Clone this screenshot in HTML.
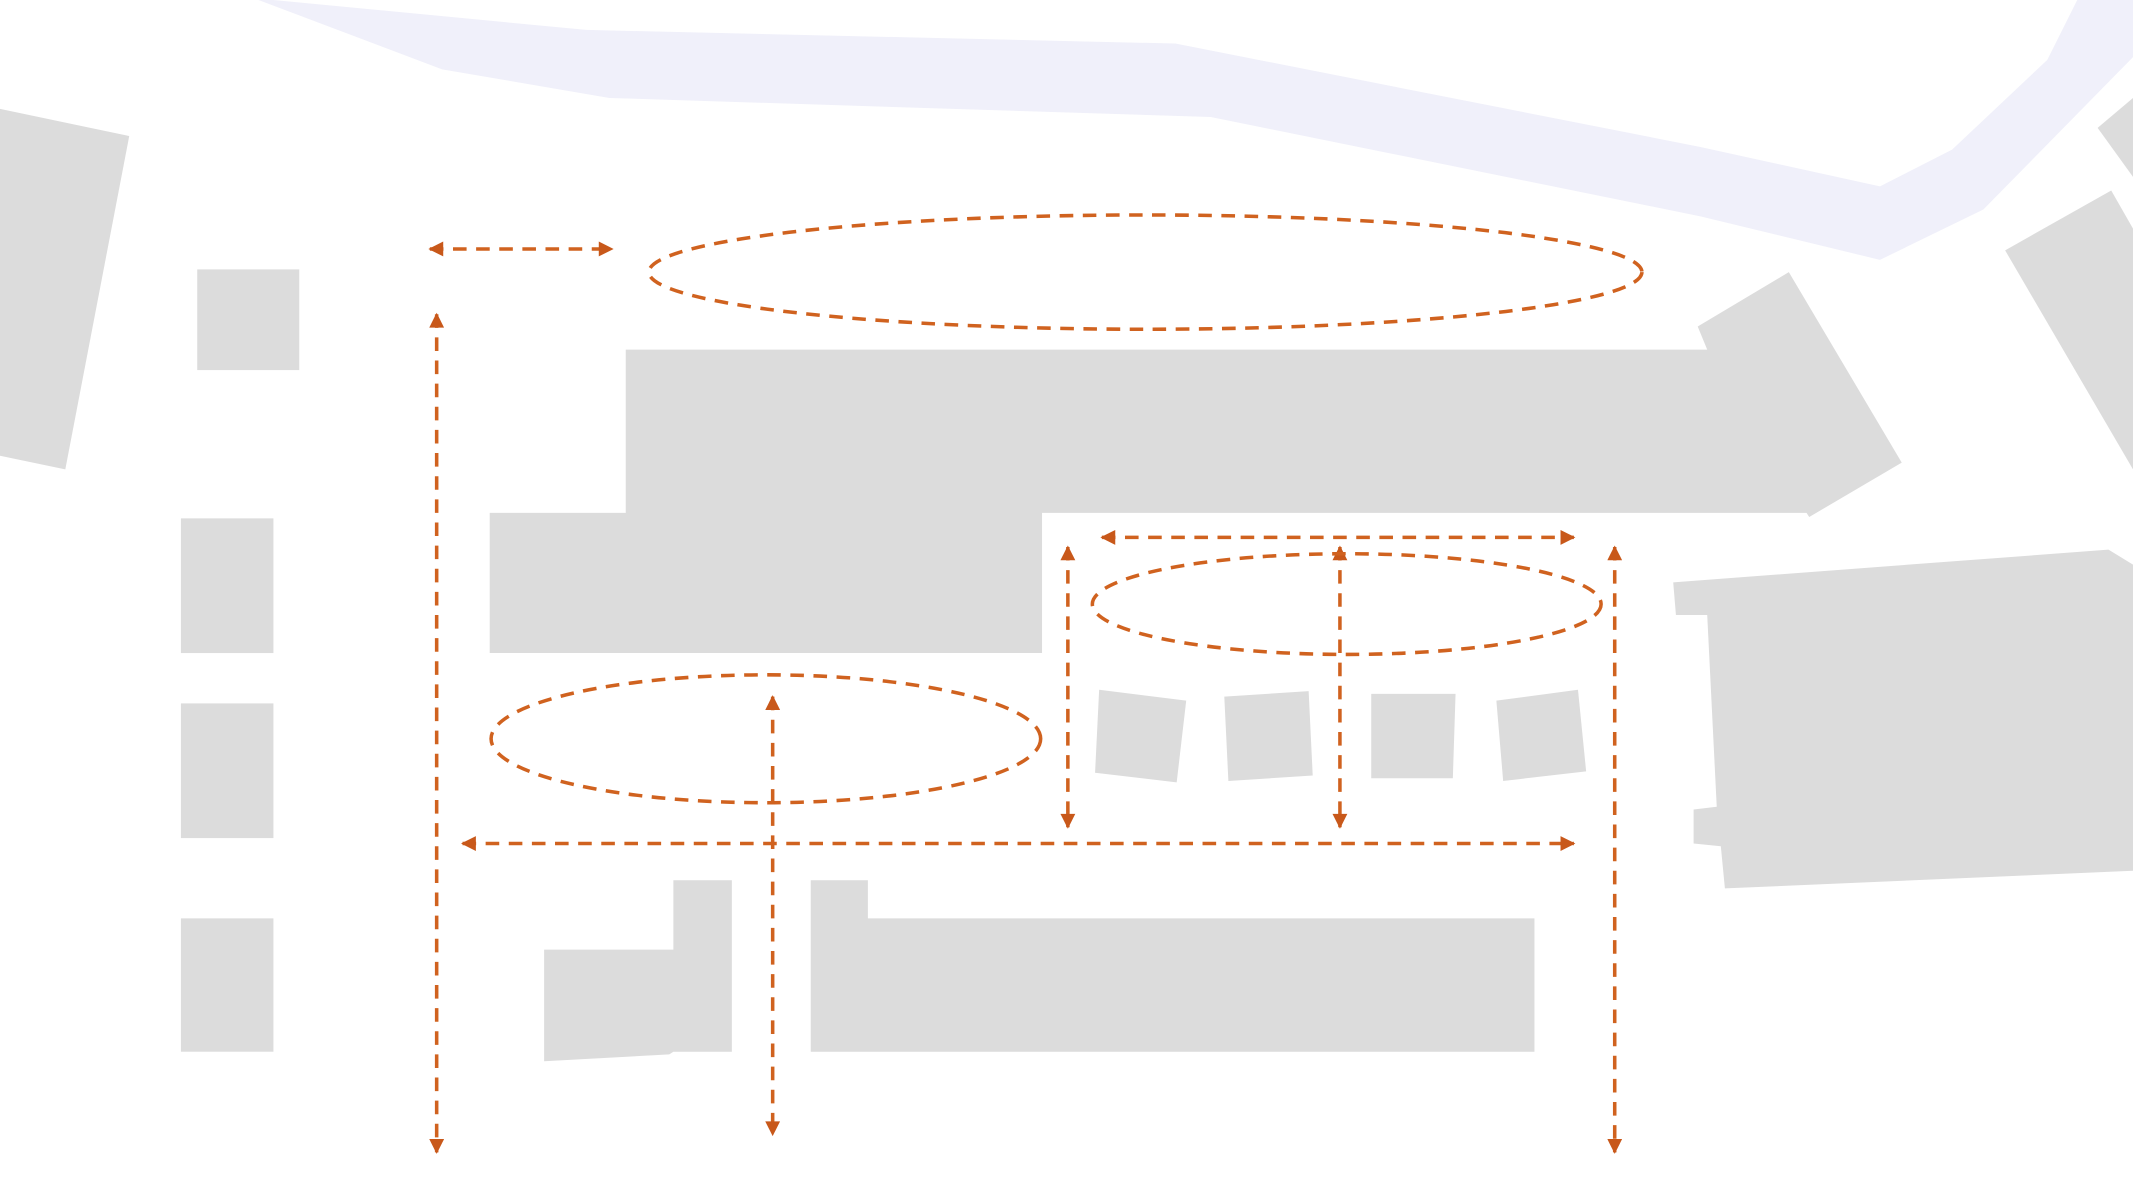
<!DOCTYPE html>
<html><head><style>html,body{margin:0;padding:0;background:#fff;}svg{display:block;}</style></head>
<body>
<svg width="2133" height="1200" viewBox="0 0 1568 882" preserveAspectRatio="none" xmlns="http://www.w3.org/2000/svg">
<defs>
<marker id="a" viewBox="0 0 10 10" refX="9" refY="5" markerWidth="6" markerHeight="4.2" orient="auto-start-reverse" markerUnits="strokeWidth">
<path d="M0,0 L10,5 L0,10 z" fill="#c8581a"/></marker>
</defs>
<rect width="1568" height="882" fill="#fff"/>
<polygon points="201,0 431,22 864,32 1250,108 1382,137 1435,110 1505,44 1527,0 1568,0 1568,42 1458,154 1382,191 1250,159 890,86 448,72 325,51 190,0" fill="#f0f0fa"/>
<g fill="#dcdcdc">
<polygon points="0,80 95,100 48,345 0,335"/>
<rect x="145" y="198" width="75" height="74"/>
<rect x="133" y="381" width="68" height="99"/>
<rect x="133" y="517" width="68" height="99"/>
<rect x="133" y="675" width="68" height="98"/>
<polygon points="460,257 1255,257 1248,240 1315,200 1398,340 1330,380 1328,377 766,377 766,480 360,480 360,377 460,377"/>
<polygon points="808,507 872,515 865,575 805,568"/>
<polygon points="900,512 962,508 965,570 903,574"/>
<polygon points="1008,510 1070,510 1068,572 1008,572"/>
<polygon points="1100,515 1160,507 1166,567 1105,574"/>
<polygon points="1230,428 1550,404 1568,415 1568,640 1268,653 1265,622 1245,620 1245,595 1262,593 1255,452 1232,452"/>
<polygon points="1474,184 1552,140 1568,168 1568,345"/>
<polygon points="1542,94 1568,72 1568,130"/>
<polygon points="400,698 495,698 495,647 538,647 538,773 495,773 492,775 400,780"/>
<polygon points="596,647 638,647 638,675 1128,675 1128,773 596,773"/>
</g>
<g fill="none" stroke="#d0621f" stroke-width="2.6" stroke-dasharray="10,7">
<line x1="316" y1="183" x2="450" y2="183" marker-start="url(#a)" marker-end="url(#a)"/>
<line x1="321" y1="231" x2="321" y2="847" marker-start="url(#a)" marker-end="url(#a)"/>
<ellipse cx="842" cy="200" rx="365" ry="42"/>
<line x1="810" y1="395" x2="1157" y2="395" marker-start="url(#a)" marker-end="url(#a)"/>
<line x1="785" y1="402" x2="785" y2="608" marker-start="url(#a)" marker-end="url(#a)"/>
<line x1="985" y1="402" x2="985" y2="608" marker-start="url(#a)" marker-end="url(#a)"/>
<line x1="1187" y1="402" x2="1187" y2="847" marker-start="url(#a)" marker-end="url(#a)"/>
<ellipse cx="990" cy="444" rx="187" ry="37"/>
<ellipse cx="563" cy="543" rx="202" ry="47"/>
<line x1="568" y1="512" x2="568" y2="834" marker-start="url(#a)" marker-end="url(#a)"/>
<line x1="340" y1="620" x2="1157" y2="620" marker-start="url(#a)" marker-end="url(#a)"/>
</g>
</svg>
</body></html>
